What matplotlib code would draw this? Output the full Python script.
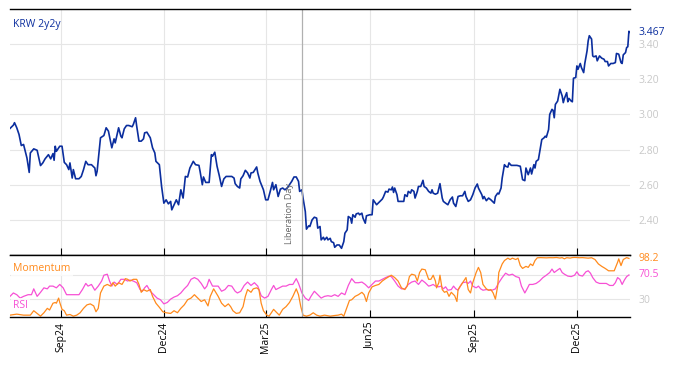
import pandas as pd
import matplotlib.pyplot as plt
import matplotlib.dates as mdates

plt.rcParams['font.family'] = ['Open Sans', 'DejaVu Sans']

# KRW 2y2y, days counted from 2024-07-17
start = pd.Timestamp('2024-07-17')
krw_days = [1, 4, 5, 7, 9, 11, 13, 16, 18, 19, 22, 25, 28, 30, 32, 35, 37, 39, 40, 41,
            42, 45, 47, 49, 51, 53, 54, 56, 57, 59, 62, 64, 66, 68, 70, 73, 76, 77, 78, 81,
            84, 86, 88, 91, 93, 94, 97, 99, 100, 102, 104, 106, 109, 110, 112, 113, 115, 117, 119, 120,
            122, 125, 127, 129, 130,
            133, 135, 137, 139, 141, 143, 144, 146, 148, 150, 152, 154, 156, 158, 160, 163, 165, 168, 169, 171,
            172, 174, 177, 179, 180, 182, 184, 186, 188, 190, 192, 197, 199, 200, 202, 204, 205, 207, 209, 211,
            213, 214, 216, 219, 220, 222, 225, 227, 229, 231, 233, 234, 236, 238, 240, 242, 244, 246, 248, 250,
            252, 254, 256, 257, 259, 260, 262, 263, 265, 266, 268, 270,
            272, 273, 275, 276, 278, 279, 281, 282, 284, 285, 287, 288, 290, 292, 294, 296, 297, 299, 300, 302,
            303, 304, 306, 307, 309, 310, 312, 313, 315, 316, 319, 321, 322, 324, 325, 327, 330, 331, 333, 335,
            336, 338, 339, 340, 341, 343, 344, 347, 349, 350, 352, 353, 355, 356, 358, 359, 361, 362, 364, 366,
            367, 369, 371, 373, 374, 375, 377, 379, 381, 383, 384, 386, 388, 390, 392, 393, 395, 397, 399, 401,
            403, 404, 406,
            408, 410, 412, 414, 415, 418, 419, 420, 422, 424, 426, 429, 430, 432, 433, 435, 436, 438, 439, 441,
            442, 444, 447, 449, 452, 453, 454, 456, 457, 459, 461, 462, 464, 465, 466, 468, 469, 471, 473, 474,
            475, 477, 478, 480, 481, 482, 483, 485, 487, 489, 490, 491, 493, 494, 495, 497, 498, 499, 501, 502,
            503, 505, 506, 508, 509, 511, 512, 513, 515, 516, 517, 519, 520, 522, 524, 526, 527, 529, 530, 532,
            534, 536, 537, 539, 541, 542, 543, 545, 546, 547, 548, 549]
krw = [2.92, 2.939, 2.953, 2.924, 2.886, 2.823, 2.829, 2.752, 2.67, 2.781, 2.804, 2.796, 2.709, 2.724, 2.747, 2.771, 2.747, 2.777, 2.739, 2.819,
       2.79, 2.819, 2.819, 2.727, 2.714, 2.686, 2.724, 2.638, 2.686, 2.634, 2.634, 2.647, 2.686, 2.733, 2.714, 2.714, 2.695, 2.651, 2.676, 2.867,
       2.88, 2.924, 2.905, 2.81, 2.861, 2.838, 2.924, 2.876, 2.867, 2.918, 2.937, 2.937, 2.93, 2.943, 2.981, 2.933, 2.848, 2.848, 2.861, 2.895,
       2.899, 2.867, 2.81, 2.781, 2.733,
       2.714, 2.59, 2.495, 2.514, 2.491, 2.505, 2.457, 2.486, 2.514, 2.486, 2.571, 2.524, 2.647, 2.644, 2.695, 2.733, 2.714, 2.71, 2.676, 2.60,
       2.644, 2.613, 2.613, 2.771, 2.762, 2.785, 2.705, 2.651, 2.59, 2.633, 2.647, 2.647, 2.638, 2.606, 2.59, 2.581, 2.633, 2.651, 2.682, 2.667,
       2.638, 2.667, 2.67, 2.701, 2.667, 2.619, 2.571, 2.514, 2.514, 2.562, 2.613, 2.571, 2.60, 2.533, 2.575, 2.581, 2.571, 2.581, 2.60, 2.619,
       2.644, 2.644, 2.619, 2.562, 2.571, 2.524, 2.447, 2.347, 2.366, 2.362, 2.40, 2.415,
       2.41, 2.353, 2.362, 2.286, 2.301, 2.286, 2.301, 2.286, 2.295, 2.276, 2.27, 2.244, 2.257, 2.257, 2.238, 2.276, 2.324, 2.343, 2.419, 2.41,
       2.381, 2.429, 2.415, 2.434, 2.438, 2.429, 2.438, 2.41, 2.381, 2.423, 2.429, 2.429, 2.514, 2.495, 2.486, 2.499, 2.518, 2.53, 2.562, 2.558,
       2.575, 2.571, 2.587, 2.556, 2.581, 2.543, 2.505, 2.505, 2.505, 2.543, 2.533, 2.562, 2.552, 2.571, 2.562, 2.524, 2.562, 2.59, 2.59, 2.625,
       2.59, 2.581, 2.562, 2.552, 2.571, 2.552, 2.546, 2.552, 2.606, 2.524, 2.505, 2.495, 2.486, 2.514, 2.53, 2.495, 2.476, 2.533, 2.537, 2.537,
       2.562, 2.533, 2.505,
       2.514, 2.543, 2.581, 2.604, 2.581, 2.543, 2.52, 2.533, 2.509, 2.524, 2.514, 2.495, 2.533, 2.552, 2.547, 2.581, 2.638, 2.714, 2.705, 2.70,
       2.724, 2.71, 2.71, 2.71, 2.705, 2.667, 2.629, 2.623, 2.695, 2.657, 2.695, 2.661, 2.714, 2.695, 2.733, 2.743, 2.781, 2.857, 2.867, 2.876,
       2.87, 2.914, 3.00, 3.029, 3.023, 2.981, 3.057, 3.076, 3.143, 3.105, 3.067, 3.091, 3.124, 3.072, 3.091, 3.076, 3.072, 3.206, 3.21, 3.276,
       3.257, 3.29, 3.267, 3.238, 3.29, 3.362, 3.419, 3.448, 3.429, 3.333, 3.328, 3.333, 3.305, 3.333, 3.32, 3.314, 3.301, 3.301, 3.276, 3.29,
       3.29, 3.295, 3.347, 3.343, 3.295, 3.29, 3.339, 3.352, 3.381, 3.385, 3.473, 3.467]

mom_days = [1, 7, 13, 19, 22, 25, 28, 31, 34, 36, 39, 41, 42, 44, 45, 47, 49, 51, 54, 57,
            60, 63, 66, 69, 72, 75, 77, 79, 81, 84, 87, 90, 92, 94, 97, 100, 103, 105, 107, 110,
            113, 115, 117, 119, 122, 125, 127, 130, 133, 136, 139, 143, 146, 149, 152, 155, 158, 161, 164, 167,
            170, 173, 176, 178, 181,
            185, 188, 191, 194, 196, 198, 201, 204, 207, 209, 211, 214, 216, 219, 221, 223, 225, 228, 230, 232,
            234, 236, 239, 242, 245, 248, 251, 254, 256, 258, 260, 263, 266, 269, 272, 275, 279, 284, 288, 291,
            294, 296, 299, 301, 303, 306, 309, 312, 314, 316, 318, 321, 324, 327, 330, 333, 336, 338, 341, 344,
            347, 350, 352, 354, 356, 359, 361, 363, 365,
            368, 371, 373, 375, 377, 378, 380, 381, 383, 385, 387, 389, 391, 394, 396, 397, 399, 401, 404, 406,
            408, 410, 413, 415, 417, 419, 422, 424, 426, 428, 430, 432, 433, 436, 438, 441, 443, 445, 448, 450,
            452, 454, 457, 459, 461, 463, 465, 467, 470, 475, 478, 481, 484, 487, 489, 491, 493, 496, 498, 500,
            502, 504, 507, 509, 512, 515, 518, 521, 524, 527, 530, 533, 535, 538, 539, 541, 543, 546, 548]
momentum = [3.1, 4.8, 3.1, 3.1, 10.5, 6, 1.4, 7.1, 14.5, 11.7, 23.1, 24.3, 23.1, 31.7, 24.3, 12.8, 10.5, 3.1, 4.2, 1.4,
            3.1, 7.1, 14.5, 20.3, 22, 18.6, 8.8, 14.5, 40.3, 51.8, 54.6, 51.8, 57.5, 51.8, 57.5, 54.6, 64.3, 63.2, 60.3, 63.2,
            63.2, 54.6, 41.4, 46, 43.2, 46, 34.6, 23.1, 16.3, 8.8, 7.1, 6, 10.5, 7.1, 14.5, 20.3, 28.9, 31.7, 37.4, 31.7,
            26, 28.9, 18.6, 34.6, 47.2,
            34.6, 23.1, 17.4, 22, 17.4, 10.5, 6, 7.1, 17.4, 34.6, 46, 41.4, 47.2, 48.9, 46, 23.1, 10.5, 3.1, 1.4, 7.1,
            12.8, 8.8, 3.1, 12.8, 17.4, 24.3, 34.6, 47.2, 37.4, 17.4, 3.1, 1.4, 3.1, 7.1, 3.1, 1.4, 3.1, 1.4, 2.5, 3.1,
            4.8, 1.4, 17.4, 27.7, 28.9, 34.6, 37.4, 41.4, 37.4, 26, 40.3, 50.6, 52.9, 54.6, 60.3, 64.3, 67.8, 70.1, 66.1, 60.3,
            48.9, 46, 51.8, 67.8, 71.8, 70.1, 60.3, 74.6, 80.4,
            79.2, 63.2, 63.2, 70.1, 60.3, 48.9, 57.5, 70.1, 46, 41.4, 43.2, 34.6, 41.4, 35.7, 26, 46, 51.8, 57.5, 66.1, 46,
            40.3, 57.5, 74.6, 83.2, 74.6, 54.6, 47.2, 44.9, 46, 40.3, 30, 51.8, 74.6, 89, 94.7, 98.7, 96.4, 98.7, 96.4, 98.7,
            86.2, 81.5, 84.9, 83.2, 89, 86.2, 94.7, 99.3, 99.6, 99.2, 99.5, 99.4, 99.8, 98.9, 99.6, 97.5, 99.5, 98.8, 99.7, 99.9,
            99.8, 99.4, 99.6, 99.3, 98.7, 99.4, 96.4, 89, 84.9, 81.5, 77.5, 77.5, 77.5, 91.8, 97.5, 86.2, 96.4, 99.6, 98.2]

rsi_days = [1, 4, 7, 10, 13, 17, 20, 22, 25, 28, 31, 34, 36, 39, 42, 45, 48, 51, 54, 57,
            62, 65, 68, 70, 73, 76, 79, 82, 84, 87, 89, 91, 93, 96, 99, 102, 105, 107, 110, 113,
            116, 118, 120, 122, 125, 128, 131, 134, 137, 140, 143, 146, 149, 152, 155, 158, 161, 164, 167, 170,
            173, 175, 177, 180,
            185, 188, 191, 194, 197, 200, 202, 205, 208, 211, 214, 217, 220, 223, 226, 229, 232, 234, 236, 239,
            242, 245, 248, 251, 254, 256, 259, 262, 265, 267, 270, 273, 276, 279, 282, 285, 288, 291, 294, 297,
            300, 303, 306, 309, 312, 315, 318, 321, 324, 327, 330, 333, 336, 338, 341, 344, 347, 350, 353, 356,
            359, 362, 365,
            368, 371, 373, 375, 377, 380, 382, 384, 386, 388, 391, 393, 395, 397, 399, 401, 404, 406, 408, 410,
            413, 415, 417, 419, 422, 425, 427, 430, 433, 436, 439, 442, 445, 448, 451, 453, 456, 458, 460, 463,
            466, 469, 472, 475, 478, 480, 482, 484, 487, 489, 491, 494, 497, 500, 502, 504, 507, 510, 512, 514,
            516, 519, 522, 525, 528, 531, 534, 536, 538, 540, 542, 544, 546, 548]
rsi = [34.6, 40.3, 37.4, 31.7, 34.6, 37.4, 37.4, 47.2, 34.6, 41.4, 48.9, 47.2, 51.8, 51.8, 48.9, 54.6, 48.9, 37.4, 37.4, 37.4,
       37.4, 46, 56.3, 51.8, 54.6, 44.9, 51.8, 60.3, 70.1, 71.8, 60.3, 51.8, 58.6, 54.6, 63.2, 63.2, 60.3, 62, 60.3, 57.5,
       46, 43.2, 48.9, 52.9, 43.2, 37.4, 31.7, 28.9, 22, 24.3, 30, 33.4, 35.7, 40.3, 47.2, 52.9, 63.2, 66.1, 63.2, 56.3,
       47.2, 51.8, 63.2, 51.8,
       51.8, 43.2, 46, 52.9, 51.8, 43.2, 40.3, 43.2, 52.9, 58.6, 52.9, 57.5, 51.8, 35.7, 31.7, 34.6, 46, 52.9, 46, 48.9,
       51.8, 51.8, 54.6, 54.6, 64.3, 56.3, 40.3, 31.7, 27.7, 34.6, 43.2, 37.4, 31.7, 34.6, 35.7, 34.6, 37.4, 34.6, 40.3, 37.4,
       52.9, 64.3, 57.5, 57.5, 58.6, 54.6, 48.9, 54.6, 60.3, 60.3, 63.2, 66.1, 68.6, 67.8, 60.3, 51.8, 47.2, 47.2, 54.6, 58.6,
       60.3, 54.6, 62,
       57.5, 51.8, 52.9, 54.6, 51.8, 50.6, 51.8, 47.2, 50.6, 44.9, 46, 51.8, 47.2, 44.9, 51.8, 57.5, 58.6, 56.3, 60.3, 51.8,
       48.9, 51.8, 47.2, 44.9, 46, 44.9, 44.9, 47.2, 57.5, 66.1, 73.5, 70.1, 71.8, 67.8, 66.1, 51.8, 40.3, 47.2, 54.6, 54.6,
       56.3, 60.3, 66.1, 70.1, 74.6, 80.4, 74.6, 77.5, 81.5, 74.6, 71.8, 68.6, 67.8, 70.1, 75.8, 70.1, 68.6, 75.8, 77.5, 73.5,
       66.1, 58.6, 56.3, 56.3, 56.3, 52.9, 52.9, 57.5, 66.1, 63.2, 54.6, 62, 67.8, 70.5]

liberation_day = pd.Timestamp('2025-04-02')

krw_dates = start + pd.to_timedelta(krw_days, unit='D')
mom_dates = start + pd.to_timedelta(mom_days, unit='D')
rsi_dates = start + pd.to_timedelta(rsi_days, unit='D')

navy = '#0b2e9e'
orange = '#ff8a1c'
pink = '#f750d5'
grid_c = '#e6e6e6'
tick_c = '#c8c8c8'

fig = plt.figure(figsize=(6.74, 3.66), dpi=100)
ax = fig.add_axes([0.0148, 0.3033, 0.92, 0.6721])
ax2 = fig.add_axes([0.0148, 0.1339, 0.92, 0.1694], sharex=ax)

# top panel
ax.plot(krw_dates, krw, color=navy, lw=1.2)
ax.set_ylim(2.20, 3.60)
ax.set_yticks([2.4, 2.6, 2.8, 3.0, 3.2, 3.4])
ax.set_yticklabels(['2.40', '2.60', '2.80', '3.00', '3.20', '3.40'])
ax.axvline(liberation_day, color='#b0b0b0', lw=0.9)
ax.annotate('Liberation Day', xy=(liberation_day, 2.265), xytext=(-6, 0), textcoords='offset points',
            rotation=90, ha='right', va='bottom', fontsize=6.5, color='#666666')
ax.text(0.005, 0.935, 'KRW 2y2y', transform=ax.transAxes, color=navy, fontsize=7.5, va='center')
ax.annotate('3.467', xy=(1, krw[-1]), xycoords=('axes fraction', 'data'), xytext=(6, 0),
            textcoords='offset points', va='center', color=navy, fontsize=7.5)

# bottom panel
ax2.plot(rsi_dates, rsi, color=pink, lw=0.9)
ax2.plot(mom_dates, momentum, color=orange, lw=0.9)
ax2.set_ylim(0, 104)
ax2.set_yticks([30, 70])
ax2.set_yticklabels(['30', ''])
ax2.axvline(liberation_day, color='#b0b0b0', lw=0.9)
ax2.text(0.005, 0.79, 'Momentum', transform=ax2.transAxes, color=orange, fontsize=7.5, zorder=5, va='center',
         bbox=dict(facecolor='white', edgecolor='none', alpha=0.75, pad=1.5))
ax2.text(0.005, 0.18, 'RSI', transform=ax2.transAxes, color=pink, fontsize=7.5, zorder=5, va='center',
         bbox=dict(facecolor='white', edgecolor='none', alpha=0.75, pad=1.5))
ax2.annotate('98.2', xy=(1, momentum[-1]), xycoords=('axes fraction', 'data'), xytext=(6, 0),
             textcoords='offset points', va='center', color=orange, fontsize=7.5)
ax2.annotate('70.5', xy=(1, rsi[-1]), xycoords=('axes fraction', 'data'), xytext=(6, 0),
             textcoords='offset points', va='center', color=pink, fontsize=7.5)

for a in (ax, ax2):
    a.set_xlim(krw_dates[0], krw_dates[-1])
    for s in ('left', 'right'):
        a.spines[s].set_visible(False)
    for s in ('top', 'bottom'):
        a.spines[s].set_color('black')
        a.spines[s].set_linewidth(1)
    a.yaxis.tick_right()
    a.tick_params(axis='y', length=0, labelsize=7.5, labelcolor=tick_c, pad=6)
    a.tick_params(axis='x', direction='in', length=5, color='black')
    a.grid(True, color=grid_c, lw=0.8)
    a.set_axisbelow(True)

ax.xaxis.set_major_locator(mdates.MonthLocator(bymonth=[3, 6, 9, 12]))
ax2.xaxis.set_major_formatter(mdates.DateFormatter('%b%y'))
ax.tick_params(axis='x', labelbottom=False)
ax2.tick_params(axis='x', labelsize=7.5, labelrotation=90)

fig.savefig('out.png', dpi=100)
